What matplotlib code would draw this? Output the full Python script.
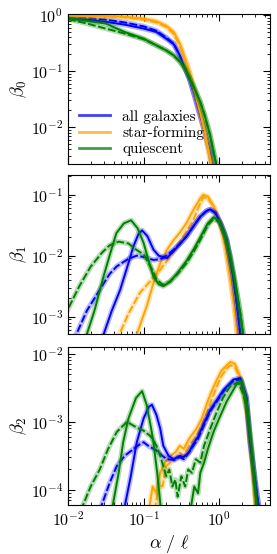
import numpy as np
import matplotlib
matplotlib.use('Agg')
import matplotlib.pyplot as plt
from matplotlib.lines import Line2D

plt.rcParams['font.family'] = 'serif'
plt.rcParams['font.serif'] = ['cmr10', 'DejaVu Serif']
plt.rcParams['mathtext.fontset'] = 'cm'
plt.rcParams['axes.formatter.use_mathtext'] = True
plt.rcParams['axes.unicode_minus'] = False

# ---- data: log10(alpha/ell), log10(beta) ----
# beta_0
b0_all_x = [-2.0, -1.75, -1.5, -1.25, -1.0, -0.83, -0.7, -0.6, -0.52, -0.45, -0.39, -0.32, -0.25, -0.19, -0.12, -0.08]
b0_all_solid = [-0.05, -0.08, -0.12, -0.17, -0.24, -0.30, -0.42, -0.52, -0.72, -0.95, -1.15, -1.47, -1.80, -2.09, -2.45, -2.80]
b0_all_dash = [-0.04, -0.05, -0.08, -0.13, -0.20, -0.28, -0.40, -0.51, -0.72, -0.95, -1.15, -1.47, -1.80, -2.09, -2.45, -2.80]
b0_sf_x = [-2.0, -1.75, -1.5, -1.25, -1.0, -0.83, -0.7, -0.6, -0.52, -0.45, -0.39, -0.32, -0.25, -0.19, -0.12, -0.09]
b0_sf_solid = [-0.01, -0.012, -0.015, -0.03, -0.06, -0.11, -0.19, -0.30, -0.51, -0.78, -1.02, -1.375, -1.73, -2.09, -2.57, -2.80]
b0_sf_dash = [-0.015, -0.018, -0.022, -0.04, -0.08, -0.13, -0.21, -0.34, -0.55, -0.80, -1.03, -1.375, -1.73, -2.09, -2.57, -2.80]
b0_q_x = [-2.0, -1.75, -1.5, -1.25, -1.0, -0.83, -0.7, -0.6, -0.52, -0.45, -0.39, -0.32, -0.25, -0.19, -0.12, -0.05, -0.02]
b0_q_solid = [-0.06, -0.10, -0.15, -0.30, -0.42, -0.54, -0.63, -0.72, -0.83, -0.96, -1.12, -1.33, -1.55, -1.80, -2.15, -2.60, -2.80]
b0_q_dash = [-0.07, -0.15, -0.24, -0.33, -0.43, -0.54, -0.63, -0.72, -0.83, -0.96, -1.12, -1.33, -1.55, -1.80, -2.15, -2.60, -2.80]

# beta_1
b1_q_dash_x = [-2.05, -1.85, -1.7, -1.55, -1.45, -1.33, -1.2, -1.1, -1.0, -0.9, -0.83, -0.74, -0.65, -0.55, -0.43, -0.33, -0.25, -0.15, -0.075, 0.0, 0.07, 0.146, 0.22, 0.28, 0.33]
b1_q_dash = [-3.0, -2.5, -2.18, -1.95, -1.83, -1.77, -1.8, -1.9, -1.98, -2.2, -2.39, -2.48, -2.42, -2.3, -2.12, -1.92, -1.74, -1.5, -1.4, -1.45, -1.65, -2.01, -2.5, -2.95, -3.4]
b1_q_solid_x = [-1.78, -1.65, -1.53, -1.45, -1.36, -1.26, -1.165, -1.08, -1.0, -0.93, -0.87, -0.8, -0.74, -0.65, -0.55, -0.43, -0.33, -0.25, -0.15, -0.075, 0.0, 0.07, 0.146, 0.22, 0.28, 0.33]
b1_q_solid = [-3.4, -2.9, -2.34, -2.0, -1.63, -1.47, -1.42, -1.55, -1.79, -2.1, -2.34, -2.47, -2.5, -2.43, -2.28, -2.08, -1.88, -1.7, -1.47, -1.37, -1.43, -1.63, -2.0, -2.5, -2.95, -3.4]
b1_all_dash_x = [-1.93, -1.75, -1.58, -1.45, -1.355, -1.2, -1.09, -0.97, -0.87, -0.8, -0.74, -0.6, -0.5, -0.43, -0.33, -0.25, -0.17, -0.12, -0.05, 0.03, 0.10, 0.18, 0.24, 0.29]
b1_all_dash = [-3.4, -2.9, -2.56, -2.3, -2.175, -2.05, -2.0, -2.03, -2.07, -2.06, -2.04, -1.9, -1.78, -1.68, -1.5, -1.36, -1.27, -1.24, -1.3, -1.5, -1.74, -2.3, -2.85, -3.4]
b1_all_solid_x = [-1.56, -1.42, -1.31, -1.22, -1.135, -1.07, -1.02, -0.95, -0.87, -0.8, -0.69, -0.6, -0.5, -0.43, -0.33, -0.25, -0.17, -0.12, -0.05, 0.03, 0.10, 0.18, 0.24, 0.29]
b1_all_solid = [-3.4, -2.9, -2.56, -2.2, -1.85, -1.65, -1.585, -1.68, -1.9, -2.0, -2.04, -1.92, -1.78, -1.68, -1.5, -1.36, -1.27, -1.24, -1.3, -1.5, -1.74, -2.3, -2.85, -3.4]
b1_sf_solid_x = [-1.12, -0.96, -0.87, -0.78, -0.69, -0.6, -0.52, -0.43, -0.33, -0.25, -0.21, -0.15, -0.07, 0.01, 0.08, 0.15, 0.2, 0.25]
b1_sf_solid = [-3.4, -2.83, -2.45, -2.12, -1.9, -1.74, -1.62, -1.46, -1.22, -1.06, -1.0, -1.03, -1.2, -1.46, -1.85, -2.4, -2.85, -3.4]
b1_sf_dash_x = [-1.36, -1.2, -1.05, -0.9, -0.78, -0.67, -0.56, -0.45, -0.34, -0.27, -0.21, -0.15, -0.07, 0.01, 0.08, 0.15, 0.2, 0.25]
b1_sf_dash = [-3.4, -2.95, -2.61, -2.4, -2.23, -2.05, -1.85, -1.63, -1.41, -1.2, -1.04, -1.06, -1.2, -1.46, -1.85, -2.4, -2.85, -3.4]

# beta_2
b2_q_dash_x = [-1.83, -1.7, -1.58, -1.47, -1.355, -1.22, -1.1, -1.0, -0.9, -0.83, -0.78, -0.74, -0.7, -0.66, -0.62, -0.58, -0.55,
               -0.5, -0.45, -0.41, -0.36, -0.31, -0.25, -0.2, -0.15, -0.1, -0.03, 0.05, 0.146, 0.25, 0.32, 0.37, 0.43, 0.5]
b2_q_dash = [-4.3, -3.95, -3.7, -3.4, -3.15, -3.0, -3.08, -3.13, -3.22, -3.35, -3.5, -3.65, -3.8, -3.7, -3.95, -3.85, -4.1,
             -3.8, -3.95, -3.7, -3.75, -3.55, -3.6, -3.35, -3.2, -3.05, -2.85, -2.65, -2.48, -2.42, -2.6, -2.85, -3.4, -4.3]
b2_q_solid_x = [-1.42, -1.33, -1.27, -1.2, -1.1, -1.02, -0.96, -0.9, -0.87, -0.82, -0.77,
                -0.38, -0.33, -0.28, -0.25, -0.2, -0.15, -0.075, 0.0, 0.1, 0.23, 0.3, 0.37, 0.43, 0.5]
b2_q_solid = [-4.3, -3.75, -3.3, -2.95, -2.65, -2.55, -2.75, -3.1, -3.3, -3.75, -4.3,
              -4.3, -3.95, -4.05, -3.75, -3.6, -3.4, -3.15, -2.95, -2.7, -2.45, -2.4, -2.75, -3.4, -4.3]
b2_all_dash_x = [-1.58, -1.45, -1.355, -1.25, -1.135, -1.05, -1.0, -0.93, -0.83, -0.75, -0.69, -0.6, -0.52, -0.47, -0.4, -0.34,
                 -0.28, -0.2, -0.12, -0.03, 0.06, 0.19, 0.28, 0.36, 0.41, 0.48, 0.53]
b2_all_dash = [-4.3, -3.9, -3.65, -3.5, -3.4, -3.33, -3.3, -3.36, -3.42, -3.5, -3.55, -3.56, -3.52, -3.55, -3.45, -3.35,
               -3.25, -3.05, -2.85, -2.7, -2.55, -2.4, -2.38, -2.65, -3.3, -3.9, -4.3]
b2_all_solid_x = [-1.26, -1.17, -1.09, -1.0, -0.93, -0.89, -0.83, -0.78, -0.74, -0.67, -0.6, -0.52, -0.47, -0.4, -0.34,
                  -0.28, -0.2, -0.12, -0.03, 0.06, 0.19, 0.28, 0.36, 0.41, 0.48, 0.53]
b2_all_solid = [-4.3, -3.8, -3.3, -2.95, -2.78, -2.75, -2.9, -3.1, -3.35, -3.5, -3.55, -3.5, -3.52, -3.45, -3.32,
                -3.22, -3.02, -2.83, -2.68, -2.53, -2.38, -2.36, -2.63, -3.3, -3.9, -4.3]
b2_sf_solid_x = [-0.93, -0.88, -0.83, -0.78, -0.72, -0.65, -0.58, -0.52, -0.47, -0.4, -0.3, -0.23, -0.16, -0.1, -0.03,
                 0.03, 0.1, 0.15, 0.21, 0.28, 0.33, 0.37, 0.43, 0.49]
b2_sf_solid = [-4.3, -3.95, -4.05, -3.75, -3.6, -3.5, -3.45, -3.35, -3.4, -3.25, -3.1, -2.95, -2.72, -2.55, -2.38,
               -2.25, -2.17, -2.12, -2.15, -2.35, -2.6, -2.9, -3.55, -4.3]
b2_sf_dash_x = [-0.85, -0.8, -0.75, -0.7, -0.65, -0.58, -0.52, -0.47, -0.4, -0.3, -0.23, -0.16, -0.1, -0.03,
                0.03, 0.1, 0.15, 0.21, 0.28, 0.33, 0.37, 0.43, 0.49]
b2_sf_dash = [-4.3, -3.9, -3.95, -3.65, -3.6, -3.55, -3.45, -3.5, -3.35, -3.2, -3.05, -2.85, -2.68, -2.48,
              -2.33, -2.22, -2.17, -2.2, -2.38, -2.62, -2.92, -3.55, -4.3]

ylims = [(2.2e-3, 1.05), (5.2e-4, 0.21), (6e-5, 1.25e-2)]
ylabels = [r'$\beta_0$', r'$\beta_1$', r'$\beta_2$']

C_ALL = '#0000ff'
C_SF = '#ffa500'
C_Q = '#008000'


def draw(ax, x, y, color, dashed):
    xs = 10.0 ** np.asarray(x)
    ys = 10.0 ** np.asarray(y)
    # light band under the line
    ax.plot(xs, ys, '-', color=color, lw=3.8, alpha=0.28, solid_capstyle='round')
    if dashed:
        ax.plot(xs, ys, color=color, lw=1.4, dashes=(4.0, 1.3))
    else:
        ax.plot(xs, ys, '-', color=color, lw=1.4)


fig = plt.figure(figsize=(2.77, 5.54), dpi=100)
left, width = 0.2455, 0.7292
boxes = [(0.704, 0.2708), (0.3971, 0.2870), (0.0884, 0.2852)]
axes = [fig.add_axes([left, b, width, h]) for b, h in boxes]

panels = [
    [(b0_all_x, b0_all_solid, C_ALL, False), (b0_all_x, b0_all_dash, C_ALL, True),
     (b0_sf_x, b0_sf_solid, C_SF, False), (b0_sf_x, b0_sf_dash, C_SF, True),
     (b0_q_x, b0_q_solid, C_Q, False), (b0_q_x, b0_q_dash, C_Q, True)],
    [(b1_sf_solid_x, b1_sf_solid, C_SF, False), (b1_sf_dash_x, b1_sf_dash, C_SF, True),
     (b1_all_solid_x, b1_all_solid, C_ALL, False), (b1_all_dash_x, b1_all_dash, C_ALL, True),
     (b1_q_solid_x, b1_q_solid, C_Q, False), (b1_q_dash_x, b1_q_dash, C_Q, True)],
    [(b2_sf_solid_x, b2_sf_solid, C_SF, False), (b2_sf_dash_x, b2_sf_dash, C_SF, True),
     (b2_all_solid_x, b2_all_solid, C_ALL, False), (b2_all_dash_x, b2_all_dash, C_ALL, True),
     (b2_q_solid_x, b2_q_solid, C_Q, False), (b2_q_dash_x, b2_q_dash, C_Q, True)],
]

for i, ax in enumerate(axes):
    for x, y, c, d in panels[i]:
        draw(ax, x, y, c, d)
    ax.set_xscale('log')
    ax.set_yscale('log')
    ax.set_xlim(0.01, 4.7)
    ax.set_ylim(*ylims[i])
    ax.set_ylabel(ylabels[i], fontsize=13, labelpad=1)
    ax.tick_params(which='both', direction='in', top=True, right=True, labelsize=11.5)
    ax.tick_params(which='major', length=5, width=0.8)
    ax.tick_params(which='minor', length=2.5, width=0.6)
    if i < 2:
        ax.tick_params(labelbottom=False)

axes[2].set_xlabel(r'$\alpha\ /\ \ell$', fontsize=13, labelpad=3)

handles = [Line2D([], [], color=C_ALL, lw=2.0, alpha=0.75),
           Line2D([], [], color=C_SF, lw=2.0, alpha=0.75),
           Line2D([], [], color=C_Q, lw=2.0, alpha=0.75)]
axes[0].legend(handles, ['all galaxies', 'star-forming', 'quiescent'], loc='lower left',
               frameon=False, fontsize=11, handlelength=2.0, handletextpad=0.8,
               labelspacing=0.15, borderaxespad=0.6, bbox_to_anchor=(-0.02, -0.05))

fig.savefig('out.png', dpi=100)
